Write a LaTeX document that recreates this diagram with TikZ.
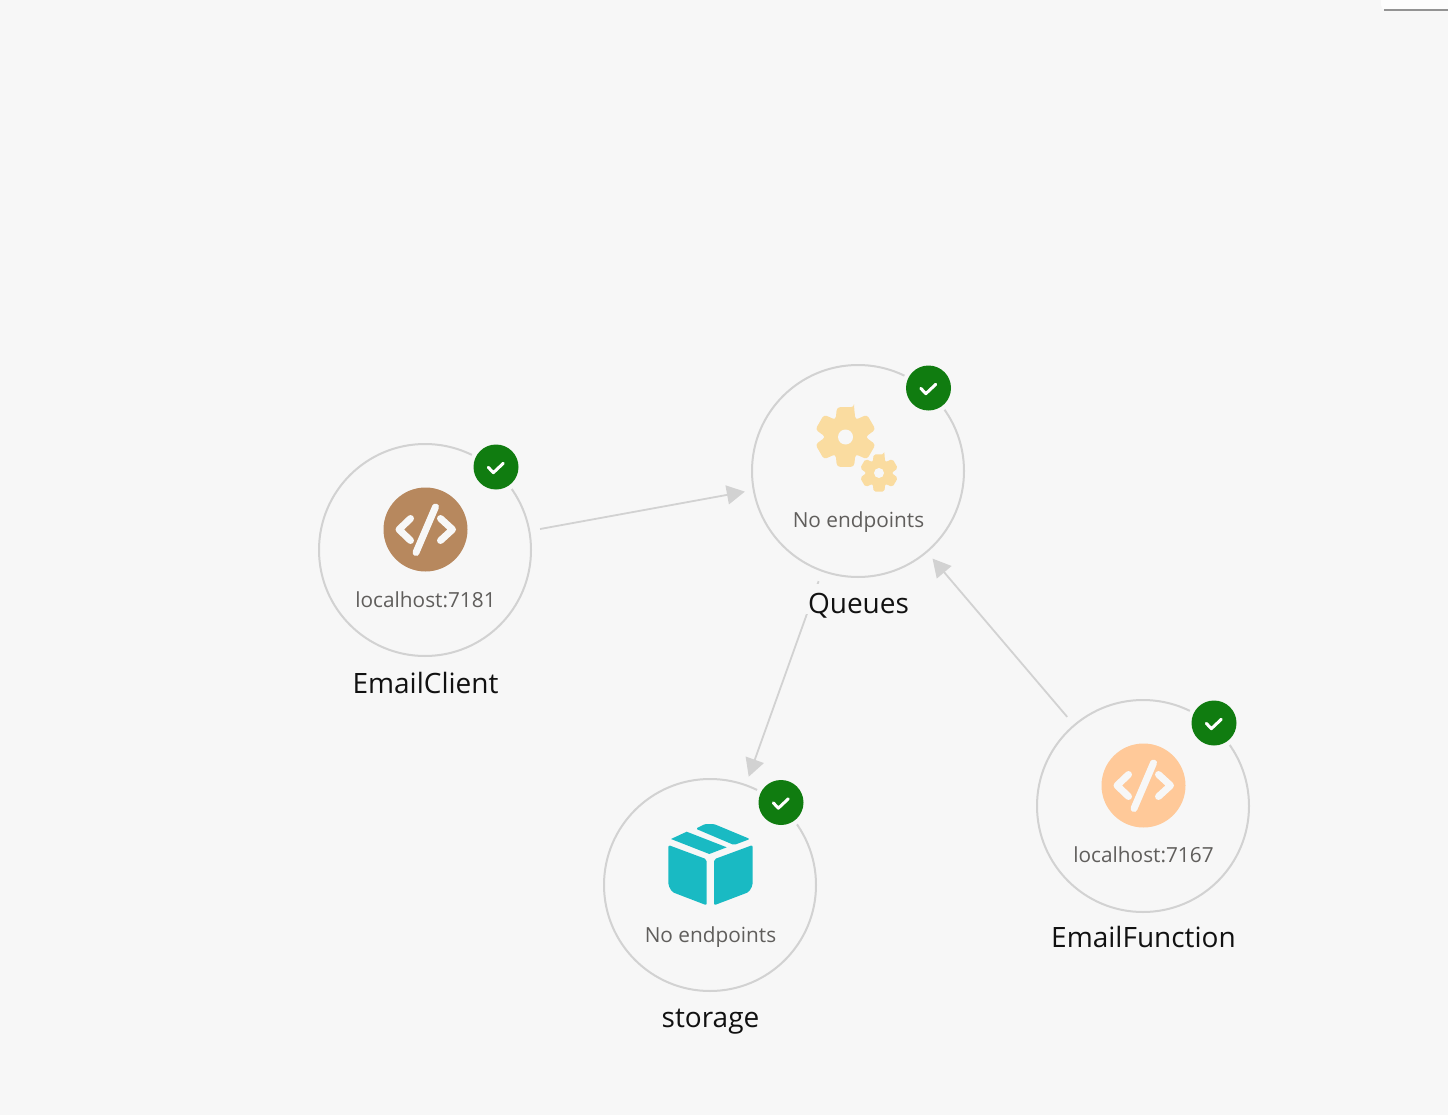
\documentclass[tikz,border=0pt]{standalone}
\usepackage{fontspec}
\setmainfont{Open Sans}
\usetikzlibrary{arrows.meta}
\definecolor{bgc}{HTML}{F7F7F7}
\definecolor{ringc}{HTML}{D2D2D2}
\definecolor{okc}{HTML}{107C10}
\definecolor{subc}{HTML}{605E5C}
\definecolor{namec}{HTML}{111111}
\definecolor{gearc}{HTML}{FADCA0}
\definecolor{boxc}{HTML}{19BAC3}
\definecolor{brownc}{HTML}{B7885E}
\definecolor{peachc}{HTML}{FFC999}
\tikzset{
  resource/.style={circle,draw=ringc,line width=2pt,minimum size=212pt,inner sep=0pt,outer sep=0pt},
  badge/.style={circle,fill=okc,minimum size=45pt,inner sep=0pt,outer sep=0pt},
  halo/.style={circle,fill=bgc,minimum size=54pt,inner sep=0pt,outer sep=0pt},
  endpoint/.style={text=subc,font=\fontsize{20.8}{24}\selectfont,inner sep=0pt,anchor=base},
  resname/.style={text=namec,fill=bgc,font=\fontsize{28}{32}\selectfont,inner xsep=2pt,inner ysep=0pt,text height=29.5pt,text depth=0pt,anchor=base},
  conn/.style={draw=ringc,line width=1.8pt,shorten <=11pt,shorten >=9pt,-{Triangle[length=18pt,width=19pt,color=ringc]}},
  tick/.style={draw=white,line width=3pt,line cap=round,line join=round},
  codeglyph/.style={draw=bgc,line width=7pt,line cap=round,line join=round}
}
\newcommand{\badgeat}[3]{%
  \node[halo] at (#2,#3) {};
  \node[badge] (#1) at (#2,#3) {};
  \draw[tick] (#2-7.7,#3+0.3) -- (#2-2.7,#3+5.7) -- (#2+7.3,#3-3.7);
}
\newcommand{\codeicon}[4]{%
  \node[circle,fill=#4,minimum size=84pt,inner sep=0pt] (#1) at (#2,#3) {};
  \draw[codeglyph] (#2-15,#3-11) -- (#2-26.5,#3) -- (#2-15,#3+11);
  \draw[codeglyph] (#2+15,#3-11) -- (#2+27,#3) -- (#2+15,#3+11);
  \draw[codeglyph] (#2+10,#3-22.5) -- (#2-9.5,#3+23);
}
\newcommand{\gearicon}[4]{%
  \fill[gearc,even odd rule,rounded corners=#3*0.1pt]
    ({#1+#3*cos(74)},{#2-#3*sin(74)})
    \foreach \a in {90,150,210,270,330,30} {
      -- ({#1+#3*cos(\a-16)},{#2-#3*sin(\a-16)})
      -- ({#1+#3*cos(\a+16)},{#2-#3*sin(\a+16)})
      -- ({#1+0.64*#3*cos(\a+30)},{#2-0.64*#3*sin(\a+30)})
    } -- cycle;
  \fill[bgc] (#1,#2) circle (#4);
}
\begin{document}
\begin{tikzpicture}[x=1pt,y=-1pt]
\useasboundingbox (0,0) rectangle (1448,1115);
\fill[bgc] (0,0) rectangle (1448,1115);
% panel in the top right corner
\fill[white!70!bgc,rounded corners=5pt] (1381,-10) rectangle (1460,10);
\draw[gray!85,line width=2pt] (1384,10) -- (1448,10);
% resource rings
\node[resource] (client) at (425,550) {};
\node[resource] (queues) at (858,471) {};
\node[resource] (storage) at (710,885) {};
\node[resource] (function) at (1143,806) {};
% connectors
\draw[conn] (client) -- (queues);
\draw[conn] (queues) -- (storage);
\draw[conn] (function) -- (queues);
% badges
\badgeat{okclient}{496}{467}
\badgeat{okqueues}{928.5}{388}
\badgeat{okstorage}{781}{802.5}
\badgeat{okfunction}{1214}{723}
% icons
\codeicon{iconclient}{425.5}{529.5}{brownc}
\codeicon{iconfunction}{1143.5}{785.5}{peachc}
\gearicon{845.5}{437}{31}{7.5}
\gearicon{879}{473}{19.5}{5}
\fill[boxc,rounded corners=2pt] (668.3,845) -- (706.7,859.3) -- (706.7,905.3) -- (672,892) -- (668.3,885) -- cycle;
\fill[boxc,rounded corners=2pt] (752.7,845) -- (714,859.3) -- (714,905.3) -- (749,892) -- (752.7,885) -- cycle;
\fill[boxc] (671,839) -- (686.7,831.7) -- (726.7,847.3) -- (709.3,854) -- cycle;
\fill[boxc,rounded corners=1.5pt] (695.7,828.7) -- (705,824) -- (714,824) -- (750,839) -- (734,845) -- cycle;
% texts
\node[endpoint] (lblclient) at (425.5,607) {localhost:7181};
\node[endpoint] (lblqueues) at (858.5,527) {No endpoints};
\node[endpoint] (lblstorage) at (710.5,942) {No endpoints};
\node[endpoint] (lblfunction) at (1143.5,862) {localhost:7167};
\node[resname] (nameclient) at (425.5,693) {EmailClient};
\node[resname] (namequeues) at (858.5,613.5) {Queues};
\node[resname] (namestorage) at (710.5,1027.5) {storage};
\node[resname] (namefunction) at (1143.5,947.5) {EmailFunction};
\end{tikzpicture}
\end{document}
